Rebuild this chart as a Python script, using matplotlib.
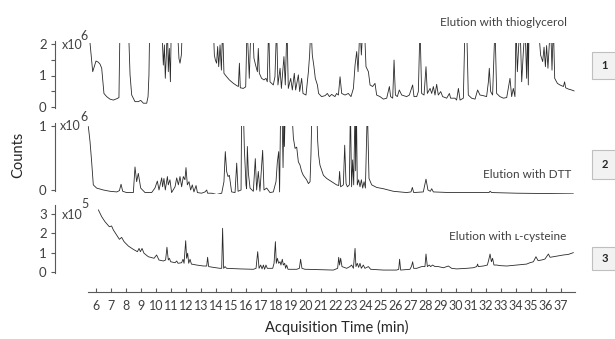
import numpy as np
import matplotlib
matplotlib.use("Agg")
import matplotlib.pyplot as plt
from matplotlib.patches import Rectangle

plt.rcParams['font.family'] = ['Lato', 'DejaVu Sans']

# ---------------- data (time in min, counts in scaled units) ----------------
thio_time = [5.49, 5.78, 6.0, 6.16, 6.27, 6.38, 6.53, 6.71, 6.93, 7.16, 7.42, 7.53, 7.6,
             8.16, 8.27, 8.38, 8.6, 8.82, 8.98, 9.16, 9.38, 9.47, 9.53, 9.58,
             10.38, 10.49, 10.56, 10.62, 10.69, 10.76, 10.82, 10.89, 10.96, 11.02,
             11.42, 11.53, 11.6, 11.69, 11.76,
             13.82, 13.89, 13.96, 14.04, 14.11, 14.18, 14.27, 14.36, 14.44, 14.53, 14.71, 14.89,
             15.16, 15.38, 15.49, 15.56, 15.62, 15.82, 15.98, 16.07, 16.22, 16.33, 16.44,
             16.53, 16.64, 16.76, 16.82, 16.89, 17.04, 17.2, 17.33, 17.42, 17.51, 17.6, 17.82,
             17.93, 18.04, 18.13, 18.27, 18.36, 18.53, 18.62, 18.73, 18.82, 18.98, 19.09, 19.22,
             19.31, 19.49, 19.58, 19.71, 19.8, 20.0, 20.16, 20.24, 20.33, 20.42, 20.53, 20.62,
             20.76, 20.84, 21.04, 21.27, 21.42, 21.56, 21.71, 21.93, 22.04, 22.16, 22.27, 22.38,
             22.6, 22.82, 23.0, 23.16, 23.27, 23.38, 23.47, 23.6, 23.69, 23.8, 23.89, 24.0,
             24.16, 24.27, 24.44, 24.6, 24.71, 24.93, 25.16, 25.38, 25.56, 25.64, 25.78, 25.87,
             25.96, 26.09, 26.22, 26.38, 26.71, 26.89, 27.11, 27.2, 27.38, 27.49, 27.6, 27.71,
             27.87, 28.0, 28.09, 28.27, 28.38, 28.49, 28.6, 28.71, 28.82, 28.98, 29.11, 29.38,
             29.56, 29.64, 29.93, 30.04, 30.16, 30.27, 30.49, 30.6, 30.71, 30.82, 31.04, 31.27,
             31.44, 31.6, 31.82, 32.04, 32.16, 32.22, 32.31, 32.44, 32.6, 32.71, 32.93, 33.16,
             33.38, 33.6, 33.71, 33.82, 33.93, 34.0, 34.09, 34.18, 34.27, 34.38, 34.49, 34.6,
             34.71, 34.78, 34.82, 34.87, 35.49, 35.64, 35.78, 35.87, 35.96, 36.04, 36.13, 36.22,
             36.31, 36.4, 36.49, 36.58, 36.76, 36.93, 37.16, 37.24, 37.31, 37.49, 37.71, 37.87]
thio_counts_e6 = [2.6, 1.12, 1.46, 1.42, 1.36, 1.23, 0.43, 0.33, 0.25, 0.22, 0.27, 0.30, 2.6,
                  2.6, 1.02, 0.38, 0.17, 0.17, 0.21, 0.12, 0.12, 0.33, 1.02, 2.6,
                  2.6, 1.33, 1.97, 0.91, 1.65, 2.6, 1.12, 1.86, 0.80, 2.6,
                  2.6, 1.54, 1.39, 1.65, 2.6,
                  2.6, 1.65, 1.49, 1.39, 1.92, 1.28, 1.97, 1.17, 2.6, 1.07, 0.96, 0.86,
                  0.75, 0.68, 0.65, 1.39, 0.61, 0.59, 0.64, 2.6, 0.91, 2.6, 2.6,
                  1.55, 1.33, 1.12, 1.86, 1.07, 0.91, 0.86, 0.91, 0.80, 2.6, 0.80, 0.70,
                  0.96, 2.6, 0.70, 1.23, 0.59, 1.60, 0.70, 2.6, 0.59, 0.91, 0.54, 1.07,
                  0.54, 1.02, 0.49, 0.91, 0.43, 0.38, 1.12, 1.65, 2.6, 1.65, 1.28, 0.91,
                  0.70, 0.43, 0.33, 0.36, 0.43, 0.33, 0.40, 0.33, 0.43, 0.38, 0.96, 0.43,
                  0.38, 0.43, 0.33, 0.59, 1.33, 1.76, 1.12, 2.6, 1.65, 2.6, 2.6, 1.28,
                  1.12, 0.70, 0.65, 0.75, 0.38, 0.33, 0.25, 0.28, 0.65, 0.33, 0.28, 1.49,
                  0.38, 0.33, 0.54, 0.38, 0.33, 0.38, 0.70, 0.33, 0.33, 0.49, 2.6, 0.43,
                  0.38, 1.28, 0.43, 0.59, 0.43, 0.65, 0.38, 0.72, 0.38, 0.49, 0.33, 0.28,
                  0.43, 0.28, 0.28, 0.22, 0.59, 0.22, 0.28, 2.6, 2.6, 0.38, 0.28, 0.25,
                  0.54, 0.38, 0.36, 0.33, 0.80, 1.23, 0.49, 0.38, 2.6, 0.43, 0.33, 0.28,
                  0.30, 0.91, 0.33, 0.59, 0.33, 2.6, 1.12, 1.95, 2.6, 0.80, 1.76, 2.6,
                  0.91, 2.6, 0.70, 2.6, 2.6, 1.65, 1.44, 1.9, 1.28, 1.95, 1.23, 2.0,
                  2.6, 1.17, 2.6, 0.91, 0.75, 0.70, 0.65, 0.80, 0.61, 0.57, 0.54, 0.51]

dtt_time = [5.49, 5.6, 5.71, 5.82, 6.04, 6.49, 6.93, 7.38, 7.56, 7.67, 7.78, 8.04, 8.49, 8.6,
            8.71, 8.82, 8.98, 9.27, 9.71, 9.93, 10.09, 10.2, 10.38, 10.44, 10.53, 10.62, 10.76,
            10.82, 10.93, 11.04, 11.27, 11.38, 11.49, 11.6, 11.71, 11.82, 11.93, 12.0, 12.09,
            12.2, 12.31, 12.42, 12.53, 12.67, 12.76, 13.04, 13.27, 13.38, 13.44, 13.71, 14.04,
            14.38, 14.53, 14.62, 14.71, 14.8, 14.89, 15.04, 15.27, 15.38, 15.47, 15.67, 15.71,
            15.82, 15.89, 16.0, 16.04, 16.09, 16.16, 16.27, 16.49, 16.62, 16.71, 16.82, 16.93,
            17.11, 17.2, 17.38, 17.6, 17.82, 18.0, 18.09, 18.18, 18.24, 18.31, 18.4, 18.47,
            18.53, 18.56, 18.62, 19.04, 19.16, 19.27, 19.38, 19.49, 19.6, 19.71, 19.82, 20.04,
            20.16, 20.27, 20.33, 20.4, 20.71, 20.78, 20.84, 20.93, 21.16, 21.38, 21.71, 22.04,
            22.18, 22.24, 22.31, 22.49, 22.58, 22.67, 22.76, 22.89, 22.96, 23.04, 23.11, 23.18,
            23.27, 23.31, 23.36, 23.42, 23.51, 23.6, 23.69, 23.78, 23.87, 23.96, 24.09, 24.2,
            24.38, 24.71, 24.93, 25.16, 25.82, 26.27, 26.71, 27.0, 27.09, 27.18, 27.82, 28.0,
            28.13, 28.29, 28.38, 28.49, 29.6, 31.38, 32.2, 32.27, 32.38, 34.04, 37.82]
dtt_counts_e6 = [0.99, 0.76, 0.44, 0.08, 0.03, 0.0, -0.02, -0.03, -0.01, 0.09, -0.02, -0.04, -0.04, 0.36,
                 0.13, 0.26, 0.03, -0.04, -0.04, 0.03, 0.14, 0.0, 0.19, 0.05, 0.18, 0.0, 0.21,
                 0.08, 0.16, -0.04, 0.05, 0.19, 0.08, 0.21, 0.05, 0.21, 0.16, 0.35, 0.08,
                 0.13, 0.0, 0.08, -0.03, 0.07, -0.04, -0.05, -0.03, 0.0, -0.05, -0.05, -0.07,
                 -0.05, 0.13, 0.60, 0.29, 0.21, 0.23, -0.03, -0.04, 0.42, -0.02, 0.0, 1.3,
                 1.3, 0.65, 0.08, 0.02, 0.68, 0.26, 0.03, -0.02, 0.49, 0.0, 0.29, -0.02,
                 0.62, 0.0, 0.03, -0.04, -0.03, 0.13, 0.44, 0.60, -0.03, 1.3, 1.3, 0.35,
                 1.3, 0.68, 1.3, 1.3, 0.81, 0.65, 0.67, 0.44, 0.39, 0.29, 0.23, 0.16,
                 0.10, 0.13, 0.55, 1.3, 1.3, 0.76, 0.55, 0.39, 0.23, 0.18, 0.13, 0.08,
                 0.07, 0.29, 0.05, 0.08, 0.70, 0.10, 0.05, 0.08, 1.3, 0.05, 0.47, 0.08,
                 1.3, 0.3, 1.3, 0.08, 0.16, 0.05, 0.16, 0.03, 0.13, 0.03, 1.3, 0.18,
                 0.08, 0.04, 0.03, 0.02, -0.02, -0.03, -0.04, -0.03, 0.04, -0.04, -0.03, 0.17,
                 0.0, -0.02, 0.02, -0.03, -0.04, -0.04, -0.04, -0.02, -0.04, -0.05, -0.06]

cys_time = [6.16, 6.38, 6.6, 6.89, 7.04, 7.16, 7.38, 7.56, 7.71, 7.87, 8.16, 8.49, 8.76, 8.87,
            8.96, 9.07, 9.2, 9.49, 9.87, 10.04, 10.2, 10.49, 10.64, 10.73, 10.82, 10.89, 10.98,
            11.27, 11.38, 11.47, 11.71, 11.8, 11.87, 11.98, 12.04, 12.11, 12.18, 12.27, 12.36,
            12.71, 13.16, 13.38, 13.44, 13.51, 13.82, 14.27, 14.38, 14.44, 14.51, 14.6, 14.71,
            15.6, 16.49, 16.67, 16.78, 16.87, 16.98, 17.07, 17.16, 17.24, 17.33, 17.42, 17.78,
            17.87, 17.96, 18.02, 18.09, 18.18, 18.27, 18.33, 18.42, 18.49, 18.58, 18.64, 18.71,
            18.8, 19.38, 19.56, 19.64, 19.73, 19.93, 20.04, 21.82, 22.11, 22.18, 22.24, 22.31,
            22.4, 22.71, 22.93, 23.04, 23.16, 23.27, 23.33, 23.42, 23.51, 23.6, 23.69, 23.82,
            23.93, 24.16, 24.31, 25.16, 26.04, 26.18, 26.24, 26.31, 26.93, 27.04, 27.11, 27.18,
            27.38, 27.71, 27.93, 28.0, 28.09, 28.22, 28.31, 28.44, 28.6, 28.82, 29.16, 29.49,
            29.71, 30.04, 30.71, 31.16, 31.38, 31.44, 31.49, 31.82, 32.09, 32.18, 32.27, 32.36,
            32.44, 32.53, 32.71, 32.93, 33.38, 34.04, 34.71, 34.93, 35.16, 35.33, 35.47, 35.71,
            35.93, 36.16, 36.27, 36.49, 36.82, 37.16, 37.49, 37.82]
cys_counts_e5 = [3.21, 2.86, 2.60, 2.34, 2.38, 2.17, 1.91, 1.69, 1.79, 1.57, 1.34, 1.17, 1.05, 1.22,
                 1.05, 1.22, 0.97, 0.79, 0.71, 0.88, 0.62, 0.57, 0.62, 1.28, 0.62, 0.71, 0.53,
                 0.48, 0.57, 0.45, 0.48, 0.66, 0.45, 1.62, 0.71, 0.97, 0.45, 0.66, 0.41,
                 0.36, 0.31, 0.31, 0.76, 0.28, 0.24, 0.19, 0.19, 2.26, 0.19, 0.28, 0.19,
                 0.16, 0.14, 0.19, 1.05, 0.19, 0.36, 0.16, 0.36, 0.14, 0.36, 0.19, 0.19,
                 0.45, 1.57, 0.45, 0.71, 0.45, 0.53, 0.36, 0.66, 0.36, 0.45, 0.19, 0.36,
                 0.14, 0.14, 0.19, 0.66, 0.19, 0.14, 0.14, 0.10, 0.19, 0.76, 0.36, 0.71,
                 0.28, 0.19, 0.28, 0.36, 0.19, 1.22, 0.28, 0.45, 0.24, 0.45, 0.19, 0.36,
                 0.19, 0.28, 0.14, 0.10, 0.10, 0.14, 0.66, 0.10, 0.14, 0.31, 0.53, 0.19,
                 0.19, 0.28, 0.28, 0.93, 0.28, 0.36, 0.28, 0.36, 0.28, 0.28, 0.22, 0.31,
                 0.19, 0.16, 0.19, 0.22, 0.28, 0.41, 0.28, 0.31, 0.36, 0.62, 0.93, 0.53,
                 0.71, 0.36, 0.36, 0.33, 0.31, 0.36, 0.41, 0.48, 0.53, 0.79, 0.59, 0.62,
                 0.67, 0.93, 0.76, 0.79, 0.83, 0.88, 0.91, 1.0]

x_ticks = list(range(6, 38))
thio_yticks = [0, 1, 2]
dtt_yticks = [0, 1]
cys_yticks = [0, 1, 2, 3]
panel_labels = ["Elution with thioglycerol", "Elution with DTT", "Elution with \u029f-cysteine"]
panel_numbers = ["1", "2", "3"]
panel_exponents = ["6", "6", "5"]

# ---------------- layout helpers ----------------
W, H = 615, 339
fig = plt.figure(figsize=(W / 100, H / 100), dpi=100)

def px_axes(left, top, right, bottom):
    return fig.add_axes([left / W, 1 - bottom / H, (right - left) / W, (bottom - top) / H])

def px_text(x, y, s, **kw):
    return fig.text(x / W, 1 - y / H, s, **kw)

TXT = '#404040'
SPN = '#595959'
LINE = '#2a2a2a'
LW = 0.6
t_left = 6 + (55 - 96) / 15.0
t_right = 6 + (575 - 96) / 15.0

def style_panel(ax, yticks, ylim, bounds=None):
    ax.set_xlim(t_left, t_right)
    ax.set_ylim(*ylim)
    for s in ['top', 'right', 'bottom']:
        ax.spines[s].set_visible(False)
    ax.spines['left'].set_color(SPN)
    ax.spines['left'].set_linewidth(0.8)
    if bounds is not None:
        ax.spines['left'].set_bounds(*bounds)
    ax.set_xticks([])
    ax.set_yticks(yticks)
    ax.set_yticklabels([str(v) for v in yticks])
    ax.tick_params(axis='y', direction='out', length=3, width=0.8, color=SPN,
                   labelsize=9.5, labelcolor=TXT, pad=3)
    ax.patch.set_visible(False)

# top panel
ax1 = px_axes(55, 107 - 2.03 * 31.5, 575, 107 + 0.03 * 31.5)
ax1.plot(thio_time, thio_counts_e6, color=LINE, lw=LW)
style_panel(ax1, thio_yticks, (-0.03, 2.03), bounds=(-0.03, 2.1))
ax1.set_yticks([0.5, 1.5], minor=True)
ax1.tick_params(axis='y', which='minor', direction='out', length=3, width=0.8, color=SPN)

# middle panel
ax2 = px_axes(55, 126, 575, 190 + 0.07 * 64)
ax2.plot(dtt_time, dtt_counts_e6, color=LINE, lw=LW)
style_panel(ax2, dtt_yticks, (-0.07, 1.0), bounds=(-0.02, 1.05))

# bottom panel
ax3 = px_axes(55, 272 - 3.45 * 19.333, 575, 272 + 0.05 * 19.333)
ax3.plot(cys_time, cys_counts_e5, color=LINE, lw=LW)
style_panel(ax3, cys_yticks, (-0.05, 3.45))

# x axis
axx = px_axes(88, 280, 575, 292)
axx.set_xlim(6 + (88 - 96) / 15.0, t_right)
axx.set_ylim(0, 1)
for s in ['top', 'right', 'left']:
    axx.spines[s].set_visible(False)
axx.spines['bottom'].set_color(SPN)
axx.spines['bottom'].set_linewidth(0.8)
axx.set_yticks([])
axx.set_xticks(x_ticks)
axx.set_xticklabels([str(v) for v in x_ticks])
axx.tick_params(axis='x', direction='in', length=3, width=0.8, color=SPN,
                labelsize=9, labelcolor=TXT, pad=6)
axx.patch.set_visible(False)

# multiplier labels
for (xb, yb, xe, ye), e in zip([(62, 45, 80, 36), (60, 126, 80, 117), (62, 215, 81, 204)],
                               panel_exponents):
    px_text(xb, yb, "x10", fontsize=9, color=TXT, ha='left', va='center')
    px_text(xe, ye, e, fontsize=9, color=TXT, ha='left', va='center')

# panel annotations
for (x, y), s in zip([(503, 22), (527, 175), (508, 236)], panel_labels):
    px_text(x, y, s, fontsize=8.5, color=TXT, ha='center', va='center')

# number boxes
for (top, bot), n in zip([(52, 79), (150, 179), (247, 270)], panel_numbers):
    fig.patches.append(Rectangle((592 / W, 1 - bot / H), 30 / W, (bot - top) / H,
                                 transform=fig.transFigure, facecolor='#f2f2f2',
                                 edgecolor='#bfbfbf', linewidth=0.8))
    px_text(605, (top + bot) / 2, n, fontsize=8, fontweight='bold', color='#262626',
            ha='center', va='center')

# axis titles
px_text(18, 155, "Counts", fontsize=10.5, color='#262626', rotation=90,
        ha='center', va='center')
px_text(337, 327, "Acquisition Time (min)", fontsize=10.5, color='#262626',
        ha='center', va='center')

fig.savefig("out.png", dpi=100)
